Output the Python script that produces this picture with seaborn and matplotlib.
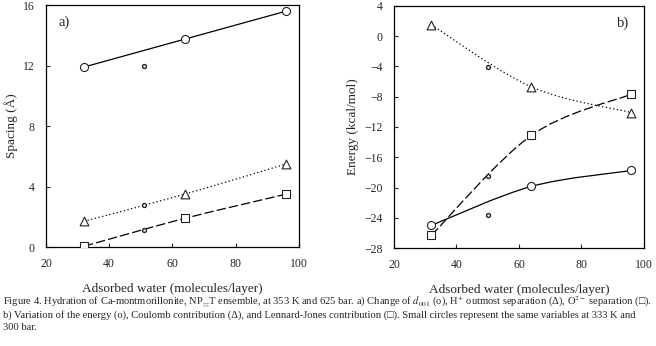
import numpy as np
import pandas as pd
import matplotlib
matplotlib.use('Agg')
import matplotlib.pyplot as plt
from matplotlib.path import Path
from matplotlib.patches import PathPatch
import seaborn as sns

sns.set_style('ticks')
plt.rcParams['font.family'] = ['Liberation Serif', 'DejaVu Sans']
plt.rcParams['mathtext.fontset'] = 'stix'

# ---- data ----
water = [32, 64, 96]
water_small = 51
water_small_b = 50

# a) spacing (A)
d001 = [11.9, 13.75, 15.6]
h_sep = [1.7, 3.5, 5.5]
o_sep = [0.05, 1.9, 3.5]
spacing_small = [12.0, 2.75, 1.1]

# b) energy (kcal/mol)
energy = [-25.0, -19.85, -17.75]
coulomb = [1.5, -6.7, -10.1]
lj = [-26.3, -13.1, -7.65]
energy_small = [-23.6, -4.1, -18.5]

caption = [
    r'Figure 4. Hydration of Ca-montmorillonite, NP$_{zz}$T ensemble, at 353 K and 625 bar. a) Change of $d_{001}$ (o), '
    r'H$^{+}$ outmost separation (Δ), O$^{2-}$ separation (□).',
    'b) Variation of the energy (o), Coulomb contribution (Δ), and Lennard-Jones contribution (□). '
    'Small circles represent the same variables at 333 K and',
    '300 bar.',
]

DOT = (0, (1, 2))
DASH = (0, (7.5, 2.5))


def smooth_line(ax, x, y, ls):
    # excel-like smoothed line (catmull-rom -> cubic bezier)
    p = np.column_stack([x, y]).astype(float)
    n = len(p)
    verts = [p[0]]
    codes = [Path.MOVETO]
    for i in range(n - 1):
        p0 = p[max(i - 1, 0)]
        p1 = p[i]
        p2 = p[i + 1]
        p3 = p[min(i + 2, n - 1)]
        c1 = p1 + (p2 - p0) / 6
        c2 = p2 - (p3 - p1) / 6
        verts += [c1, c2, p2]
        codes += [Path.CURVE4] * 3
    ax.add_patch(PathPatch(Path(verts, codes), fill=False, ec='black',
                           lw=0.9, ls=ls, zorder=2))


def markers(ax, x, y, m, size=5.8):
    df = pd.DataFrame({'x': x, 'y': y})
    sns.scatterplot(data=df, x='x', y='y', ax=ax, marker=m, s=size ** 2,
                    facecolor='white', edgecolor='#222222', linewidth=0.8,
                    zorder=3, legend=False)


fig = plt.figure(figsize=(6.56, 3.46), dpi=100)
ax1 = fig.add_axes([0.0701, 0.2861, 0.3857, 0.6994])
ax2 = fig.add_axes([0.6006, 0.2832, 0.3811, 0.6995])

# panel a
smooth_line(ax1, water, d001, '-')
smooth_line(ax1, water, h_sep, DOT)
smooth_line(ax1, water, o_sep, DASH)
markers(ax1, water, d001, 'o')
markers(ax1, water, h_sep, '^', 6.3)
markers(ax1, water, o_sep, 's')
ax1.scatter([water_small] * 3, spacing_small, s=8, facecolor='white',
            edgecolor='#222222', linewidth=1.0, zorder=4)
ax1.set_xlim(20, 100)
ax1.set_ylim(0, 16)
ax1.set_yticks([0, 4, 8, 12, 16])
ax1.set_ylabel('Spacing (Å)', fontsize=9.5)
ax1.text(0.05, 0.93, 'a)', transform=ax1.transAxes, fontsize=10.5, va='center')

# panel b
smooth_line(ax2, water, energy, '-')
smooth_line(ax2, water, coulomb, DOT)
smooth_line(ax2, water, lj, DASH)
markers(ax2, water, energy, 'o')
markers(ax2, water, coulomb, '^', 6.3)
markers(ax2, water, lj, 's')
ax2.scatter([water_small_b] * 3, energy_small, s=8, facecolor='white',
            edgecolor='#222222', linewidth=1.0, zorder=4)
ax2.set_xlim(20, 100)
ax2.set_ylim(-28, 4)
ax2.set_yticks(np.arange(-28, 5, 4))
ax2.set_ylabel('Energy (kcal/mol)', fontsize=9.5)
ax2.text(0.89, 0.93, 'b)', transform=ax2.transAxes, fontsize=10.5, va='center')

for ax in (ax1, ax2):
    ax.set_xticks([20, 40, 60, 80, 100])
    ax.set_xlabel('Adsorbed water (molecules/layer)', fontsize=9.5, labelpad=9)
    ax.tick_params(direction='in', length=3, width=0.8, labelsize=8.5, pad=8)
    for s in ax.spines.values():
        s.set_visible(True)
        s.set_linewidth(0.9)
        s.set_color('black')

for i, line in enumerate(caption):
    fig.text(0.004, 1 - (302 + i * 12.8) / 346, line, fontsize=7.6, va='center', ha='left')

plt.savefig('out.png', dpi=100)
plt.close(fig)
